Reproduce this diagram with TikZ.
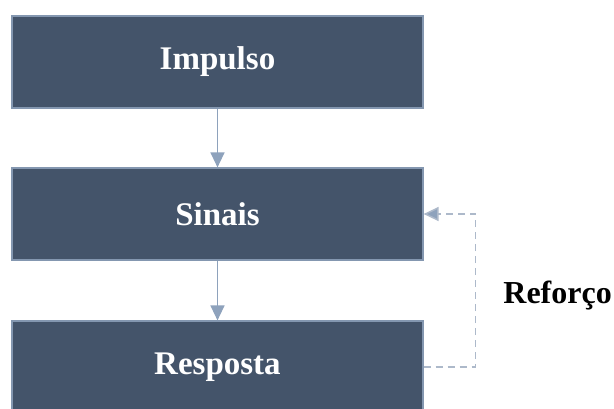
\documentclass[tikz,border=0pt]{standalone}
\usepackage{fontspec}
\setmainfont{Liberation Serif}
\usetikzlibrary{arrows.meta,calc}
\definecolor{caixafundo}{HTML}{44546A}
\definecolor{caixaborda}{HTML}{8497B0}
\definecolor{setacor}{HTML}{8EA2BC}
\definecolor{tracocor}{HTML}{ADB9CA}

\begin{document}
\begin{tikzpicture}[x=1pt,y=-1pt,
	caixa/.style={draw=caixaborda,line width=1.2pt,fill=caixafundo,minimum width=411pt,minimum height=92pt,inner sep=0pt,text=white,font=\fontsize{33}{38}\selectfont\bfseries},
	seta/.style={draw=setacor,line width=1.3pt,-{Triangle[length=15pt,width=14pt]}},
	retorno/.style={draw=tracocor,line width=1.5pt,dash pattern=on 7pt off 5pt,-{Triangle[length=15pt,width=14pt,fill=setacor]}}]
	\useasboundingbox (0,0) rectangle (614,408);% page size
	\node[caixa] (impulso) at (217.5,62) {Impulso};
	\node[caixa] (sinais) at (217.5,214) {Sinais};
	\node[caixa] (resposta) at (217.5,367) {Resposta};
	\coordinate (volta) at ($(resposta.east)+(52,0)$);
	\node[anchor=east,inner sep=0pt,font=\fontsize{32}{38}\selectfont\bfseries] (reforco) at (612,296) {Reforço};
	\draw[seta] (impulso) -- (sinais);
	\draw[seta] (sinais) -- (resposta);
	\draw[retorno] (resposta.east) -- (volta) |- (sinais.east);
\end{tikzpicture}
\end{document}
